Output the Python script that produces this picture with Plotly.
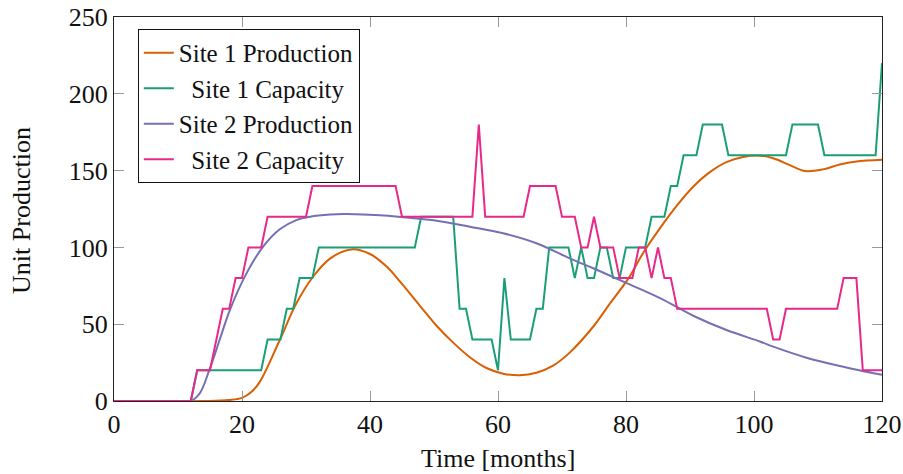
import plotly.graph_objects as go

# Monthly capacity figures (months 0..120)
months = list(range(121))

site1_capacity = (
    [0] * 13 + [20] * 11 + [40] * 3 + [60] * 2 + [80] * 3 + [100] * 16
    + [120] * 6 + [60] * 2 + [40] * 4 + [20] + [80] + [40] * 4 + [60] * 2
    + [100] * 4 + [80] + [100] + [80] * 2 + [100] * 2 + [80] * 2 + [100] * 4
    + [120] * 3 + [140] * 2 + [160] * 3 + [180] * 4 + [160] * 10 + [180] * 5
    + [160] * 9 + [220]
)

site2_capacity = (
    [0] * 13 + [20] * 3 + [40] + [60] * 2 + [80] * 2 + [100] * 3 + [120] * 7
    + [140] * 14 + [120] * 12 + [180] + [120] * 7 + [140] * 5 + [120] * 3
    + [100] * 2 + [120] + [100] * 3 + [80] * 3 + [100] * 2 + [80] + [100]
    + [80] * 2 + [60] * 15 + [40] * 2 + [60] * 9 + [80] * 3 + [20] * 4
)

# Production curves, sampled at irregular months
site1_prod_months = [0, 14, 18, 20, 21.5, 22.8, 25.9, 28.5, 31.1, 33.8, 37.1,
                     40, 42.6, 44.7, 47.8, 50.4, 53, 55.6, 58.2, 60.8, 63.4,
                     66, 68.6, 71.2, 74.9, 77.5, 80.4, 82.7, 85.4, 88, 90.5,
                     93.1, 95.7, 98.3, 101, 103, 105.6, 108, 110.8, 113.4,
                     116, 120]
site1_production = [0, 0, 0.6, 2, 6, 12.6, 39.7, 63.6, 80.9, 92.9, 98.7,
                    95.7, 87.5, 77.7, 62, 49, 38, 28.5, 21.5, 17.8, 16.7,
                    18.4, 23, 31.5, 48.5, 63.5, 80, 96.5, 113, 127.5, 139.5,
                    149, 155.5, 158.8, 159.7, 158, 153.6, 149.7, 150.8, 154,
                    155.9, 157]

site2_prod_months = [0, 12, 13.4, 14.9, 16.5, 18.1, 20.7, 23.3, 25.9, 28.5,
                     31.2, 33.8, 36.4, 41.6, 45.2, 50.4, 55.6, 60.8, 66, 71.2,
                     74.9, 80.2, 85.4, 90.5, 95.7, 101, 103, 108.2, 113.4, 120]
site2_production = [0, 0, 5, 20.2, 39.7, 59.2, 83.1, 100.5, 111.8, 117.8,
                    120.4, 121.5, 121.7, 120.9, 119.6, 117.4, 113.5, 109.2,
                    102.7, 92.9, 86.4, 76.6, 66.8, 55.5, 46.2, 38.6, 35.4,
                    28.2, 22.8, 17]

x_ticks = [0, 20, 40, 60, 80, 100, 120]
y_ticks = [0, 50, 100, 150, 200, 250]

ORANGE, GREEN, PURPLE, PINK = "#d95f02", "#1b9e77", "#7570b3", "#e7298a"
FONT = "Liberation Serif"
TXT = "#111"
NB = "\u00a0"

fig = go.Figure()
fig.add_trace(go.Scatter(x=site1_prod_months, y=site1_production, mode="lines",
                         name="Site 1 Production",
                         line=dict(color=ORANGE, width=2, shape="spline", smoothing=1)))
fig.add_trace(go.Scatter(x=months, y=site1_capacity, mode="lines",
                         name=NB * 2 + "Site 1 Capacity",
                         line=dict(color=GREEN, width=2)))
fig.add_trace(go.Scatter(x=site2_prod_months, y=site2_production, mode="lines",
                         name="Site 2 Production",
                         line=dict(color=PURPLE, width=2, shape="spline", smoothing=1)))
fig.add_trace(go.Scatter(x=months, y=site2_capacity, mode="lines",
                         name=NB * 2 + "Site 2 Capacity",
                         line=dict(color=PINK, width=2)))

axis_common = dict(
    showgrid=False, zeroline=False, showline=True, linecolor="#222", linewidth=1.3,
    mirror="ticks", ticks="inside", ticklen=10, tickwidth=1.2, tickcolor="#999",
    tickfont=dict(family=FONT, size=26, color=TXT), automargin=False,
)

fig.update_layout(
    width=903, height=474,
    margin=dict(l=114, r=21, t=17, b=73),
    paper_bgcolor="white", plot_bgcolor="white",
    font=dict(family=FONT, size=26, color=TXT),
    showlegend=True,
    legend=dict(x=0.031, y=0.969, xanchor="left", yanchor="top",
                bordercolor=TXT, borderwidth=1, bgcolor="white",
                font=dict(family=FONT, size=25, color=TXT),
                itemwidth=30, tracegroupgap=0),
    xaxis=dict(range=[0, 120], tickvals=x_ticks, **axis_common),
    yaxis=dict(range=[0, 250], tickvals=y_ticks, **axis_common),
    annotations=[
        dict(text="Time [months]", xref="paper", yref="paper", x=0.5, y=0,
             xanchor="center", yanchor="middle", yshift=-57, showarrow=False,
             font=dict(family=FONT, size=26, color=TXT)),
        dict(text="Unit Production", xref="paper", yref="paper", x=0, y=0.495,
             xanchor="center", yanchor="middle", xshift=-92, textangle=-90,
             showarrow=False, font=dict(family=FONT, size=26, color=TXT)),
    ],
)

fig.write_html("out.html")
